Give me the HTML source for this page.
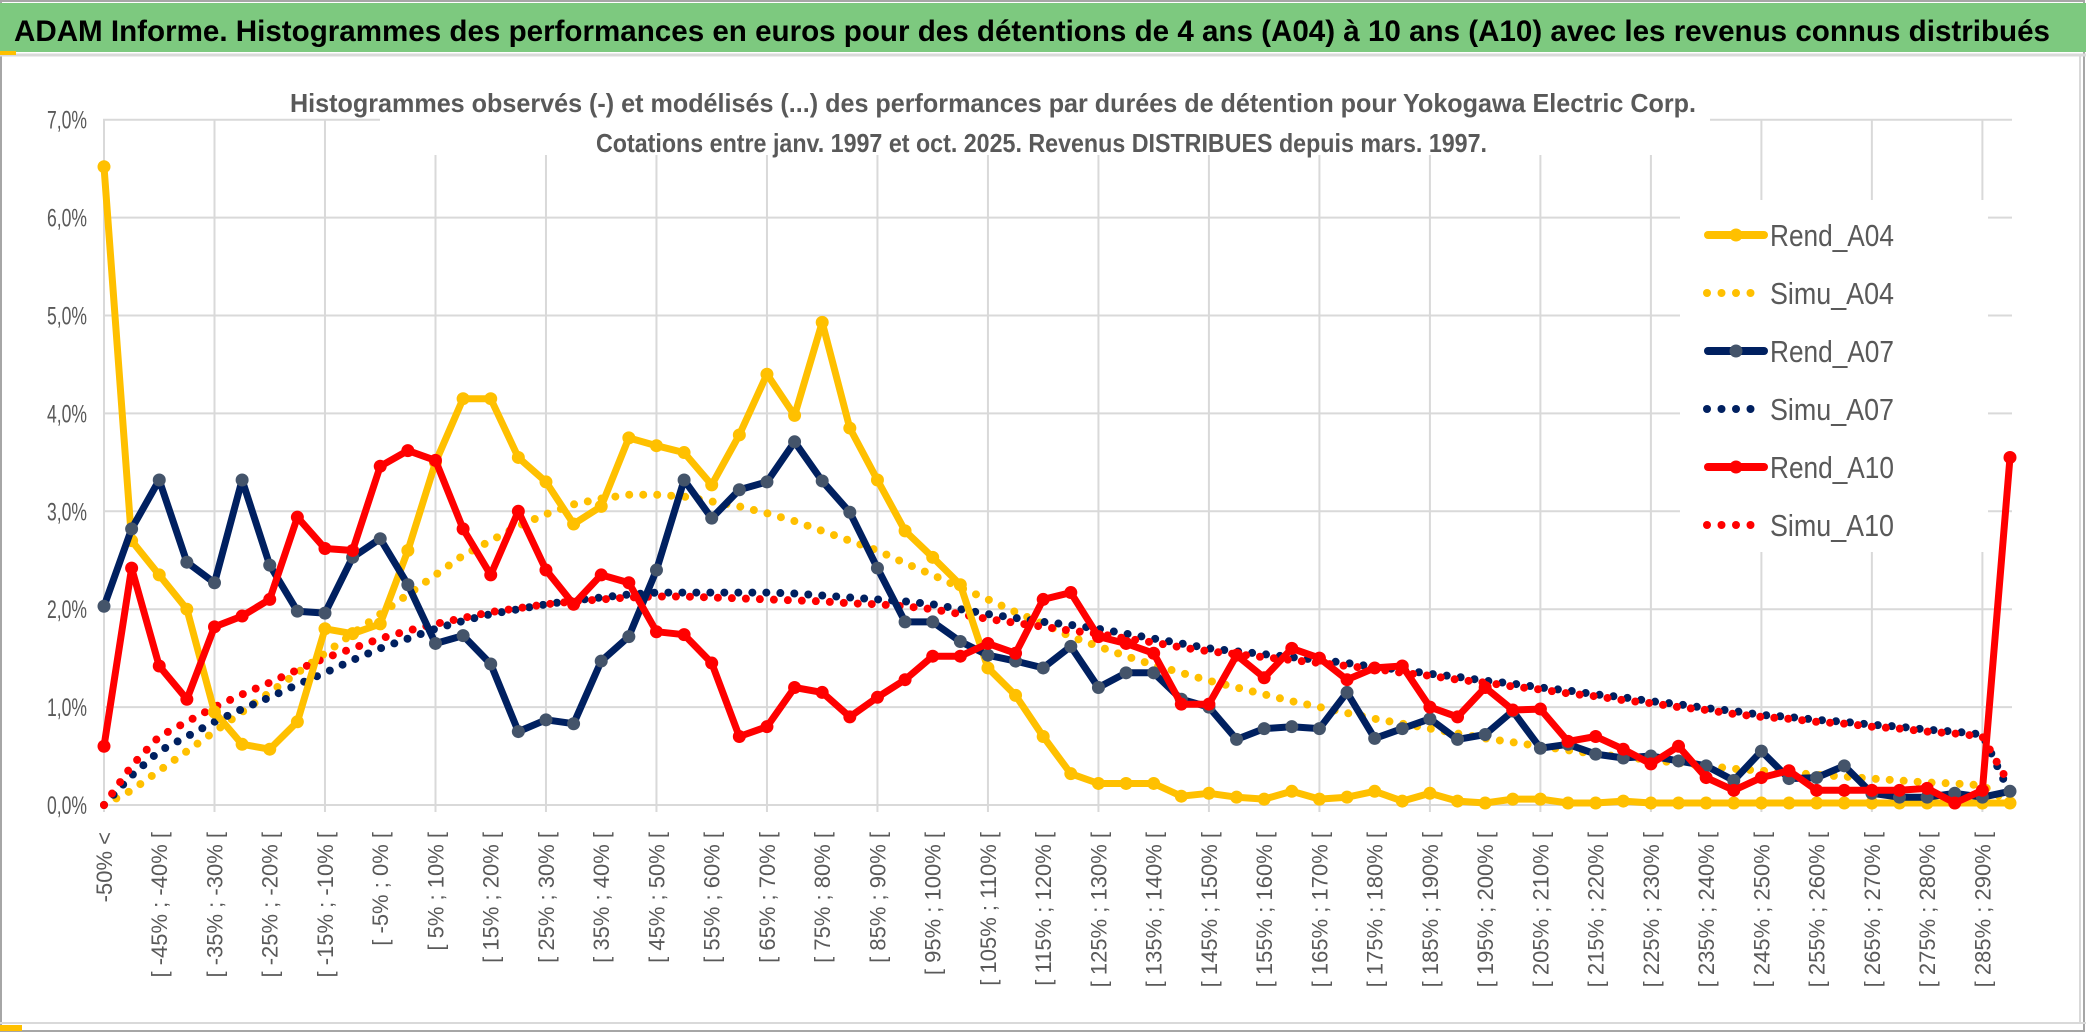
<!DOCTYPE html>
<html><head><meta charset="utf-8"><style>
html,body{margin:0;padding:0;background:#fff;}
svg{display:block;font-family:"Liberation Sans",sans-serif;}
</style></head><body>
<svg id="chart" width="2086" height="1033" viewBox="0 0 2086 1033" xmlns="http://www.w3.org/2000/svg">
<rect x="0" y="0" width="2086" height="1033" fill="#fff"/>
<rect x="1" y="1" width="2083" height="1030" fill="none" stroke="#a6a6a6" stroke-width="2"/>
<rect x="0" y="3" width="2086" height="49" fill="#7dc97f"/>
<line x1="0" y1="55" x2="2086" y2="55" stroke="#d9d9d9" stroke-width="3"/>
<rect x="0" y="51" width="16" height="4" fill="#ffc000"/>
<rect x="0" y="1025" width="22" height="6" fill="#ffc000"/>
<line x1="0" y1="1023" x2="2086" y2="1023" stroke="#d9d9d9" stroke-width="2"/>
<line x1="2080" y1="55" x2="2080" y2="1023" stroke="#d9d9d9" stroke-width="2"/>
<text x="14" y="41" font-size="30" font-weight="bold" fill="#000" textLength="2036" lengthAdjust="spacingAndGlyphs">ADAM Informe. Histogrammes des performances en euros pour des détentions de 4 ans (A04) à 10 ans (A10) avec les revenus connus distribués</text>
<g id="grid"></g>
<rect x="380" y="80" width="1330" height="75" fill="#fff"/>
<text x="290" y="112" font-size="26" font-weight="bold" fill="#595959" textLength="1406" lengthAdjust="spacingAndGlyphs">Histogrammes observés (-) et modélisés (...) des performances par durées de détention pour Yokogawa Electric Corp.</text>
<text x="596" y="152" font-size="26" font-weight="bold" fill="#595959" textLength="891" lengthAdjust="spacingAndGlyphs">Cotations entre janv. 1997 et oct. 2025. Revenus DISTRIBUES depuis mars. 1997.</text>
<g id="yaxis"></g>
<g id="xaxis"></g>
<g id="series"></g>
<g id="legend"></g>
</svg>
<script>
const categories = (function(){const a=["-50% <"];for(let k=1;k<69;k++){a.push("[ "+(-55+5*k)+"% ; "+(-50+5*k)+"% [");}a.push("> 290%");return a;})();
const rendA04 = [6.52,2.7,2.35,2.0,0.95,0.62,0.57,0.85,1.8,1.75,1.85,2.6,3.5,4.15,4.15,3.55,3.3,2.87,3.05,3.75,3.67,3.6,3.27,3.78,4.4,3.98,4.93,3.85,3.32,2.8,2.53,2.25,1.4,1.12,0.7,0.32,0.22,0.22,0.22,0.09,0.12,0.08,0.06,0.14,0.06,0.08,0.14,0.04,0.12,0.04,0.02,0.06,0.06,0.02,0.02,0.04,0.02,0.02,0.02,0.02,0.02,0.02,0.02,0.02,0.02,0.02,0.02,0.02,0.02,0.02];
const rendA07 = [2.03,2.82,3.32,2.48,2.27,3.32,2.45,1.98,1.96,2.53,2.72,2.25,1.65,1.73,1.44,0.75,0.87,0.83,1.47,1.72,2.4,3.32,2.93,3.22,3.3,3.71,3.31,2.99,2.42,1.87,1.87,1.67,1.53,1.47,1.4,1.62,1.2,1.35,1.35,1.08,1.0,0.67,0.78,0.8,0.78,1.15,0.68,0.78,0.88,0.67,0.72,0.96,0.58,0.62,0.52,0.48,0.5,0.45,0.4,0.25,0.55,0.27,0.28,0.4,0.12,0.08,0.08,0.12,0.08,0.14];
const rendA10 = [0.6,2.42,1.42,1.08,1.82,1.93,2.1,2.94,2.62,2.6,3.46,3.62,3.52,2.82,2.35,3.0,2.4,2.05,2.35,2.27,1.77,1.74,1.45,0.7,0.8,1.2,1.15,0.9,1.1,1.28,1.52,1.52,1.65,1.55,2.1,2.17,1.72,1.65,1.55,1.03,1.03,1.53,1.3,1.6,1.5,1.28,1.4,1.42,1.0,0.9,1.2,0.97,0.98,0.65,0.7,0.57,0.42,0.6,0.28,0.15,0.28,0.35,0.15,0.15,0.15,0.15,0.17,0.02,0.15,3.55];
const simuA04 = [0,0.15,0.35,0.55,0.75,0.95,1.15,1.35,1.55,1.75,1.95,2.15,2.35,2.55,2.7,2.85,2.97,3.07,3.13,3.17,3.17,3.15,3.1,3.05,2.98,2.9,2.8,2.7,2.6,2.47,2.35,2.22,2.1,1.97,1.85,1.72,1.62,1.52,1.43,1.35,1.27,1.2,1.13,1.06,1.0,0.94,0.88,0.83,0.78,0.73,0.68,0.64,0.6,0.56,0.52,0.49,0.46,0.43,0.4,0.37,0.35,0.33,0.31,0.29,0.27,0.25,0.23,0.22,0.2,0.02];
const simuA07 = [0,0.3,0.55,0.7,0.85,0.98,1.1,1.23,1.35,1.48,1.6,1.7,1.8,1.88,1.95,2.0,2.05,2.09,2.12,2.15,2.17,2.17,2.17,2.17,2.17,2.16,2.14,2.12,2.1,2.08,2.05,2.0,1.95,1.91,1.87,1.84,1.8,1.75,1.7,1.65,1.6,1.57,1.54,1.51,1.48,1.45,1.41,1.38,1.34,1.31,1.27,1.24,1.2,1.17,1.13,1.1,1.06,1.03,0.99,0.96,0.92,0.9,0.87,0.85,0.82,0.8,0.77,0.75,0.72,0.12];
const simuA10 = [0,0.4,0.7,0.85,1.0,1.13,1.25,1.38,1.5,1.6,1.7,1.78,1.85,1.91,1.97,2.01,2.05,2.08,2.1,2.12,2.13,2.13,2.12,2.11,2.1,2.09,2.08,2.06,2.05,2.03,2.0,1.95,1.9,1.86,1.82,1.78,1.75,1.7,1.66,1.61,1.57,1.54,1.51,1.48,1.45,1.42,1.39,1.35,1.32,1.28,1.25,1.21,1.18,1.14,1.11,1.07,1.04,1.0,0.97,0.93,0.9,0.88,0.85,0.83,0.8,0.78,0.75,0.73,0.7,0.2];
const yTicks = [0,1,2,3,4,5,6,7];
const yTickLabels = ["0,0%","1,0%","2,0%","3,0%","4,0%","5,0%","6,0%","7,0%"];
const legendLabels = ["Rend_A04","Simu_A04","Rend_A07","Simu_A07","Rend_A10","Simu_A10"];

const NS="http://www.w3.org/2000/svg";
const X0=104, XSTEP=(2010-104)/69, Y0=805, YPER=97.9;
function xPos(i){return X0+i*XSTEP;}
function yPos(v){return Y0-v*YPER;}
function mk(tag,attrs,parent){const e=document.createElementNS(NS,tag);for(const k in attrs)e.setAttribute(k,attrs[k]);parent.appendChild(e);return e;}

const grid=document.getElementById('grid');
yTicks.forEach(t=>{
  const l=mk('line',{x1:103,x2:2012,y1:yPos(t),y2:yPos(t),stroke:'#d9d9d9','stroke-width':2},grid);
  
  
});
for(let i=0;i<categories.length;i+=4){
  const l=mk('line',{x1:xPos(i),x2:xPos(i),y1:yPos(7),y2:Y0+7,stroke:'#d9d9d9','stroke-width':2},grid);
  
  
}
const lb=mk('rect',{x:1680,y:200,width:308,height:352,fill:'#fff'},grid);



const ya=document.getElementById('yaxis');
yTicks.forEach((t,k)=>{
  const tx=mk('text',{x:87,y:yPos(t)+9,'font-size':25,fill:'#595959','text-anchor':'end',textLength:40,lengthAdjust:'spacingAndGlyphs'},ya);
  tx.textContent=yTickLabels[k];
  
  
});
const xa=document.getElementById('xaxis');
categories.forEach((c,i)=>{
  if(i%2===1) return;
  const x=xPos(i)+8, y=832;
  const tx=mk('text',{x:x,y:y,'font-size':22,fill:'#595959','text-anchor':'end',transform:'rotate(-90 '+x+' '+y+')'},xa);
  tx.textContent=c;
  
  
});

const ser=document.getElementById('series');
function dotted(vals,color,name){
  let d='';
  vals.forEach((v,i)=>{d+=(i?'L':'M')+xPos(i).toFixed(1)+' '+yPos(v).toFixed(1);});
  const p=mk('path',{d:d,fill:'none',stroke:color,'stroke-width':8,'stroke-linecap':'round','stroke-dasharray':'0 14'},ser);
  
  
}
function solid(vals,color,mcol,name){
  let d='';
  vals.forEach((v,i)=>{d+=(i?'L':'M')+xPos(i).toFixed(1)+' '+yPos(v).toFixed(1);});
  const p=mk('path',{d:d,fill:'none',stroke:color,'stroke-width':7,'stroke-linejoin':'round'},ser);
  
  
  vals.forEach((v,i)=>{
    const c=mk('circle',{cx:xPos(i),cy:yPos(v),r:6.5,fill:mcol},ser);
    
    
  });
}
dotted(simuA04,'#ffc000','simu-a04-line');
dotted(simuA07,'#002060','simu-a07-line');
dotted(simuA10,'#ff0000','simu-a10-line');
solid(rendA04,'#ffc000','#ffc000','rend-a04-line');
solid(rendA07,'#002060','#44546a','rend-a07-line');
solid(rendA10,'#ff0000','#ff0000','rend-a10-line');

const lg=document.getElementById('legend');
const lcol=['#ffc000','#ffc000','#002060','#002060','#ff0000','#ff0000'];
const mcolL=['#ffc000','#ffc000','#44546a','#002060','#ff0000','#ff0000'];
legendLabels.forEach((lab,k)=>{
  const cy=235+k*58;
  const g=mk('g',{},lg);
  
  
  if(k%2===0){
    mk('line',{x1:1708,x2:1764,y1:cy,y2:cy,stroke:lcol[k],'stroke-width':8,'stroke-linecap':'round'},g);
    mk('circle',{cx:1736,cy:cy,r:6.5,fill:mcolL[k]},g);
  } else {
    for(let j=0;j<4;j++) mk('circle',{cx:1707+j*14.5,cy:cy,r:4,fill:lcol[k]},g);
  }
  const t=mk('text',{x:1770,y:cy+11,'font-size':31,fill:'#595959',textLength:124,lengthAdjust:'spacingAndGlyphs'},g);
  t.textContent=lab;
});
</script>
</body></html>
